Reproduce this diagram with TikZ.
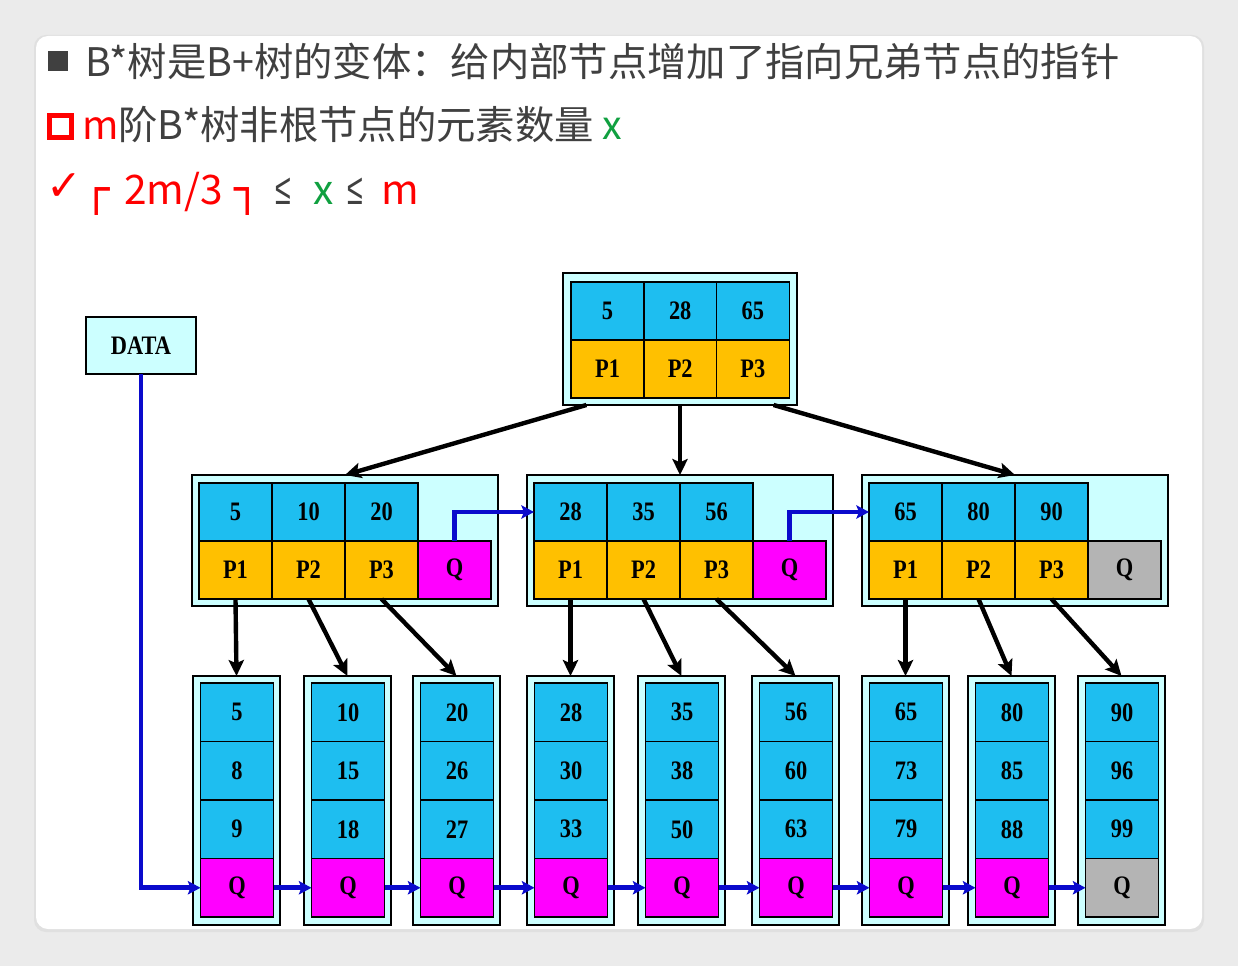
\documentclass[tikz,border=0pt]{standalone}
\usepackage{fontspec}
\usepackage{graphicx}
\usetikzlibrary{arrows.meta,calc}
\newfontfamily\cjk{Noto Sans CJK SC}
\newfontfamily\symf{DejaVu Sans}
\newfontfamily\lesf{Liberation Sans}
\newfontfamily\cellf[FakeStretch=0.84]{Liberation Serif}
\definecolor{txtgray}{HTML}{404040}
\definecolor{ptgreen}{HTML}{10A040}
\definecolor{keyblue}{HTML}{1EBEF0}
\definecolor{ptrorange}{HTML}{FFC000}
\definecolor{qmag}{HTML}{FF00FF}
\definecolor{qgray}{HTML}{B4B4B4}
\definecolor{padcyan}{HTML}{CCFFFF}
\definecolor{linkblue}{HTML}{0A0ACC}
\definecolor{pagebg}{HTML}{EBEBEB}
\tikzset{
  outerbox/.style={draw=black, line width=1.6pt, fill=padcyan, inner sep=0pt, outer sep=0pt, anchor=north west},
  cellbase/.style={draw=black, line width=1.2pt, inner sep=0pt, outer sep=0pt, anchor=north west,
     minimum width=54.75pt, minimum height=43.5pt, text=black,
     font=\cellf\bfseries\fontsize{20}{20}\selectfont},
  keycell/.style={cellbase, fill=keyblue},
  ptrcell/.style={cellbase, fill=ptrorange},
  qcell/.style={cellbase, fill=qmag},
  qend/.style={cellbase, fill=qgray},
  leafh/.style={minimum height=43.9pt},
  blackarrow/.style={draw=black, line width=3.3pt, -{Stealth[length=12pt,width=11.5pt,inset=2.5pt]}},
  bluearrow/.style={draw=linkblue, line width=3.5pt, -{Stealth[length=9.5pt,width=10pt,inset=2pt]}},
  headtxt/.style={anchor=base west, inner sep=0pt, outer sep=0pt, text=txtgray, font=\cjk\fontsize{29.5}{30}\selectfont},
  mathtxt/.style={anchor=base west, inner sep=0pt, outer sep=0pt, font=\cjk\fontsize{30.5}{31}\selectfont},
  letxt/.style={anchor=base west, inner sep=0pt, outer sep=0pt, text=txtgray, font=\lesf\fontsize{33}{33}\selectfont}
}
\begin{document}
\begin{tikzpicture}[x=0.75pt,y=-0.75pt]
\useasboundingbox (0,0) rectangle (1238,966);
\fill[pagebg] (0,0) rectangle (1238,966);
\fill[black!12, rounded corners=9pt] (34,35) rectangle (1204,932);
\fill[white, rounded corners=9pt] (36,36) rectangle (1202,929);

% ---- header
\node[fill=txtgray, minimum size=15pt, inner sep=0pt, outer sep=0pt, anchor=north west] (bull1) at (48,51) {};
\node[headtxt] (line1) at (85,77) {B*树是B+树的变体：给内部节点增加了指向兄弟节点的指针};
\node[draw=red, line width=3.75pt, minimum size=16.5pt, inner sep=0pt, outer sep=0pt] (bull2) at (60.5,126.5) {};
\node[headtxt] (line2) at (82,140) {\textcolor{red}{m}阶B*树非根节点的元素数量 \textcolor{ptgreen}{x}};
\node[anchor=base west, inner sep=0pt, text=red, font=\symf\bfseries\fontsize{32}{32}\selectfont] (chk) at (46,201) {✓};
\node[anchor=base west, inner sep=0pt, text=red, font=\symf\bfseries\fontsize{33}{33}\selectfont] (lceil) at (83,205) {┌};
\node[mathtxt, text=red] (frac) at (124,205) {2m/3};
\node[anchor=base west, inner sep=0pt, text=red, font=\symf\bfseries\fontsize{33}{33}\selectfont] (rceil) at (234,205) {┐};
\node[letxt] (le1) at (275,205) {\scalebox{0.65}[1]{≤}};
\node[mathtxt, text=ptgreen] (xx) at (313,205) {x};
\node[letxt] (le2) at (347,205) {\scalebox{0.65}[1]{≤}};
\node[mathtxt, text=red] (mm) at (381,205) {m};

% ---- root
\node[outerbox, minimum width=175.5pt, minimum height=99pt] (root) at (563,273) {};
\foreach \i/\k/\p [count=\c] in {0/5/P1,1/28/P2,2/65/P3}{
  \node[keycell] (r-k\c) at ({571+72.7*\i},282) {\k};
  \node[ptrcell] (r-p\c) at ({571+72.7*\i},340) {\p};
}

% ---- internal nodes
\foreach \n/\X/\a/\b/\cc/\qs in {1/192/5/10/20/qcell, 2/527/28/35/56/qcell, 3/862/65/80/90/qend}{
  \node[outerbox, minimum width=229.5pt, minimum height=98.25pt] (n\n) at (\X,475) {};
  \node[keycell] (n\n k1) at ({\X+7},483) {\a};
  \node[keycell] (n\n k2) at ({\X+80},483) {\b};
  \node[keycell] (n\n k3) at ({\X+153},483) {\cc};
  \node[ptrcell] (n\n p1) at ({\X+7},541) {P1};
  \node[ptrcell] (n\n p2) at ({\X+80},541) {P2};
  \node[ptrcell] (n\n p3) at ({\X+153},541) {P3};
  \node[\qs] (n\n q) at ({\X+226},541) {Q};
}

% ---- leaves
\foreach \n/\X/\a/\b/\cc/\qs in {1/193/5/8/9/qcell, 2/304/10/15/18/qcell, 3/413/20/26/27/qcell,
   4/527/28/30/33/qcell, 5/638/35/38/50/qcell, 6/752/56/60/63/qcell,
   7/862/65/73/79/qcell, 8/968/80/85/88/qcell, 9/1078/90/96/99/qend}{
  \node[outerbox, minimum width=65.25pt, minimum height=186.75pt] (L\n) at (\X,676) {};
  \node[keycell, leafh] (L\n a) at ({\X+7.5},683) {\a};
  \node[keycell, leafh] (L\n b) at ({\X+7.5},741.5) {\b};
  \node[keycell, leafh] (L\n c) at ({\X+7.5},800) {\cc};
  \node[\qs, leafh] (L\n q) at ({\X+7.5},858.5) {Q};
}

% ---- DATA
\node[outerbox, minimum width=82.5pt, minimum height=42.75pt,
      font=\cellf\bfseries\fontsize{20}{20}\selectfont] (data) at (86,317) {DATA};

% ---- black arrows
\draw[blackarrow] ($(root.south west)!0.1!(root.south east)$) -- (n1.north);
\draw[blackarrow] (root.south) -- (n2.north);
\draw[blackarrow] ($(root.south west)!0.9!(root.south east)$) -- (n3.north);
\draw[blackarrow] (n1p1.south) -- (L1.north);
\draw[blackarrow] (n1p2.south) -- (L2.north);
\draw[blackarrow] (n1p3.south) -- (L3.north);
\draw[blackarrow] (n2p1.south) -- (L4.north);
\draw[blackarrow] (n2p2.south) -- (L5.north);
\draw[blackarrow] (n2p3.south) -- (L6.north);
\draw[blackarrow] (n3p1.south) -- (L7.north);
\draw[blackarrow] (n3p2.south) -- (L8.north);
\draw[blackarrow] (n3p3.south) -- (L9.north);

% ---- blue links
\draw[bluearrow] (n1q.north) |- (n2k1.west);
\draw[bluearrow] (n2q.north) |- (n3k1.west);
\draw[bluearrow] (data.south) |- (L1q.west);
\foreach \a/\b in {1/2,2/3,3/4,4/5,5/6,6/7,7/8,8/9}{
  \draw[bluearrow] (L\a q.east) -- (L\b q.west);
}
\end{tikzpicture}
\end{document}
